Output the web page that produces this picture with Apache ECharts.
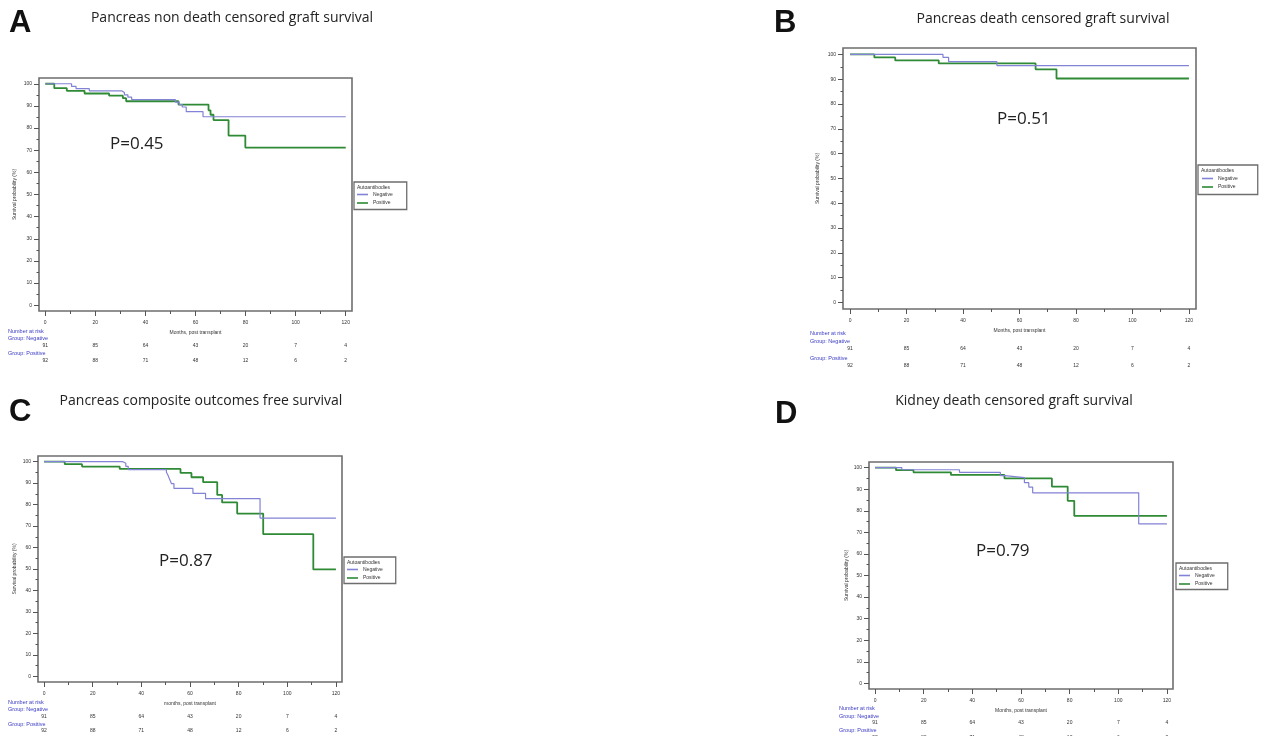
<!DOCTYPE html>
<html>
<head>
<meta charset="utf-8">
<script src="https://cdn.jsdelivr.net/npm/echarts@6/dist/echarts.min.js"></script>
<style>
  html, body { margin: 0; padding: 0; background: #fff; }
  #chart { width: 1261px; height: 736px; }
</style>
</head>
<body>
<div id="chart"></div>
<script>
// axis ticks
const monthTicks = [0, 20, 40, 60, 80, 100, 120];
const monthMinor = [10, 30, 50, 70, 90, 110];
const pctTicks = [0, 10, 20, 30, 40, 50, 60, 70, 80, 90, 100];
const pctMinor = [5, 15, 25, 35, 45, 55, 65, 75, 85, 95];

// number at risk, same table under every panel
const riskNegative = [91, 85, 64, 43, 20, 7, 4];
const riskPositive = [92, 88, 71, 48, 12, 6, 2];

const panelLetters = ['A', 'B', 'C', 'D'];
const panelTitles = [
  'Pancreas non death censored graft survival',
  'Pancreas death censored graft survival',
  'Pancreas composite outcomes free survival',
  'Kidney death censored graft survival'
];
const pValues = ['P=0.45', 'P=0.51', 'P=0.87', 'P=0.79'];
const xNames = ['Months, post transplant', 'Months, post transplant', 'months, post transplant', 'Months, post transplant'];

// A - pancreas non death censored
const aNegTime = [0, 10.5, 12.3, 17.6, 30.5, 31.6, 33, 34.5, 52, 53.5, 54.7, 56.3, 63, 120];
const aNegSurv = [100, 98.8, 97.8, 96.8, 96, 95, 94, 92.8, 91.7, 90.6, 89.5, 87.4, 85.1, 85.1];
const aPosTime = [0, 3.6, 8.6, 15.7, 25.5, 31, 32.3, 53.2, 65.2, 66, 67.2, 73.2, 79.9, 120];
const aPosSurv = [100, 98, 96.8, 95.6, 94.6, 93.5, 92.1, 90.6, 88, 86, 83.6, 76.6, 71.2, 71.2];
// B - pancreas death censored
const bNegTime = [0, 32.9, 34.9, 52, 120];
const bNegSurv = [100, 98.8, 97.1, 95.5, 95.5];
const bPosTime = [0, 8.6, 16, 31.4, 65.7, 73.1, 120];
const bPosSurv = [100, 98.8, 97.6, 96.4, 94, 90.3, 90.3];
// C - composite outcomes
const cNegTime = [0, 32.2, 33.6, 34.6, 50.3, 51, 51.7, 52.4, 53.4, 61.2, 66.4, 88.8, 120];
const cNegSurv = [100, 99.2, 97.8, 96.3, 95, 93.5, 91.5, 89.7, 87.5, 85.2, 82.8, 73.7, 73.7];
const cPosTime = [0, 8.5, 15.6, 31.1, 56.1, 60.6, 65.4, 71.2, 73.2, 79.4, 90.1, 110.7, 120];
const cPosSurv = [100, 98.8, 97.7, 96.6, 94.7, 92.7, 90.4, 84.5, 81, 75.8, 66.2, 49.8, 49.8];
// D - kidney death censored
const dNegTime = [0, 11, 34.7, 51.5, 53.4, 61.4, 63.2, 64.8, 108.4, 120];
const dNegSurv = [100, 99, 97.8, 96.3, 95.4, 93, 91, 88.3, 73.9, 73.9];
const dPosTime = [0, 8.6, 15.8, 31.2, 53.2, 72.7, 79.2, 81.9, 120];
const dPosSurv = [100, 98.8, 97.8, 96.6, 95, 91.2, 84.6, 77.6, 77.6];

const negCurves = [[aNegTime, aNegSurv], [bNegTime, bNegSurv], [cNegTime, cNegSurv], [dNegTime, dNegSurv]];
const posCurves = [[aPosTime, aPosSurv], [bPosTime, bPosSurv], [cPosTime, cPosSurv], [dPosTime, dPosSurv]];

// page layout of each panel
const layouts = [
  { box: [39, 78, 313, 233], letter: [9, 23.5], title: [232, 18], p: [110, 144], legend: [354, 182], legPad: [10, 14, 4, 3],
    yGap: 22, risk: { x: 8, head: 331, neg: 338.5, negRow: 346, pos: 353, posRow: 361 } },
  { box: [843, 48, 353, 261], letter: [774, 23.5], title: [1043, 19], p: [997, 119], legend: [1198, 165], legPad: [11, 20, 5, 4],
    yGap: 23, risk: { x: 810, head: 333, neg: 341, negRow: 349, pos: 358, posRow: 366 } },
  { box: [38, 456, 304, 226], letter: [9, 412.5], title: [201, 401], p: [159, 561], legend: [344, 557], legPad: [10, 13, 3, 3],
    yGap: 21, risk: { x: 8, head: 702, neg: 709, negRow: 717, pos: 724, posRow: 731 } },
  { box: [869, 462, 304, 227], letter: [775, 414], title: [1014, 401], p: [976, 551], legend: [1176, 563], legPad: [10, 13, 3, 3],
    yGap: 20, risk: { x: 839, head: 708, neg: 716, negRow: 723, pos: 730, posRow: 738 } }
];

const NEG_COLOR = '#8282d6';
const POS_COLOR = '#2f8a35';
const RISK_COLOR = '#3a3ac4';
const tickColor = '#555';

let chart = echarts.init(document.getElementById('chart'));

let grids = [], xAxes = [], yAxes = [], series = [], legends = [], graphics = [];

layouts.forEach((L, i) => {
  const [gl, gt, gw, gh] = L.box;
  grids.push({
    left: gl, top: gt, width: gw, height: gh,
    show: true, borderColor: '#6e6e6e', borderWidth: 1.6,
    containLabel: false, outerBoundsMode: 'none'
  });
  // main x axis
  xAxes.push({
    type: 'value', gridIndex: i, position: 'bottom', min: -2.5, max: 122.5,
    axisLine: { show: false, onZero: false },
    splitLine: { show: false },
    axisTick: { show: true, customValues: monthTicks, length: 5, lineStyle: { color: tickColor } },
    axisLabel: { customValues: monthTicks, fontSize: 5, color: '#333', margin: 9, fontFamily: 'Liberation Sans' },
    name: xNames[i], nameLocation: 'middle', nameGap: 19,
    nameTextStyle: { fontSize: 5, color: '#333', fontFamily: 'Liberation Sans' }
  });
  // minor ticks
  xAxes.push({
    type: 'value', gridIndex: i, position: 'bottom', min: -2.5, max: 122.5,
    axisLine: { show: false, onZero: false }, splitLine: { show: false },
    axisTick: { show: true, customValues: monthMinor, length: 3, lineStyle: { color: tickColor } },
    axisLabel: { show: false }
  });
  // number at risk rows
  const bottom = gt + gh;
  [[riskNegative, L.risk.negRow], [riskPositive, L.risk.posRow]].forEach(([row, y]) => {
    xAxes.push({
      type: 'value', gridIndex: i, position: 'bottom', offset: y - 3 - bottom, min: -2.5, max: 122.5,
      axisLine: { show: false, onZero: false }, splitLine: { show: false }, axisTick: { show: false },
      axisLabel: {
        customValues: monthTicks, margin: 0, fontSize: 5, color: '#333', fontFamily: 'Liberation Sans',
        formatter: v => String(row[monthTicks.indexOf(v)])
      }
    });
  });
  yAxes.push({
    type: 'value', gridIndex: i, position: 'left', min: -2.6, max: 102.6,
    axisLine: { show: false, onZero: false }, splitLine: { show: false },
    axisTick: { show: true, customValues: pctTicks, length: 5, lineStyle: { color: tickColor } },
    axisLabel: { customValues: pctTicks, fontSize: 5, color: '#333', margin: 7, fontFamily: 'Liberation Sans' },
    name: 'Survival probability (%)', nameLocation: 'middle', nameGap: L.yGap,
    nameTextStyle: { fontSize: 5, color: '#333', fontFamily: 'Liberation Sans' }
  });
  yAxes.push({
    type: 'value', gridIndex: i, position: 'left', min: -2.6, max: 102.6,
    axisLine: { show: false, onZero: false }, splitLine: { show: false },
    axisTick: { show: true, customValues: pctMinor, length: 2.5, lineStyle: { color: tickColor } },
    axisLabel: { show: false }
  });

  const neg = negCurves[i], pos = posCurves[i];
  series.push({
    name: 'Negative', type: 'line', step: 'end', xAxisIndex: i * 4, yAxisIndex: i * 2,
    symbol: 'none', data: neg[0].map((t, k) => [t, neg[1][k]]),
    lineStyle: { color: NEG_COLOR, width: 1.2 }, itemStyle: { color: NEG_COLOR }, z: 3
  });
  series.push({
    name: 'Positive', type: 'line', step: 'end', xAxisIndex: i * 4, yAxisIndex: i * 2,
    symbol: 'none', data: pos[0].map((t, k) => [t, pos[1][k]]),
    lineStyle: { color: POS_COLOR, width: 1.8 }, itemStyle: { color: POS_COLOR }, z: 2
  });

  legends.push({
    left: L.legend[0], top: L.legend[1], orient: 'vertical',
    data: [{ name: 'Negative', icon: 'rect' }, { name: 'Positive', icon: 'rect' }],
    itemWidth: 11, itemHeight: 1.6, itemGap: 3.5, padding: L.legPad,
    borderColor: '#6e6e6e', borderWidth: 1.3, selectedMode: false,
    textStyle: { fontSize: 5, color: '#333', fontFamily: 'Liberation Sans' }
  });
  graphics.push({
    type: 'text', x: L.legend[0] + 3, y: L.legend[1] + 3,
    style: { text: 'Autoantibodies', fontSize: 5, fill: '#333', fontFamily: 'Liberation Sans', verticalAlign: 'top' }
  });

  // panel letter, title, p value
  graphics.push({
    type: 'text', x: L.letter[0], y: L.letter[1],
    style: { text: panelLetters[i], fontSize: 31, fontWeight: 'bold', fill: '#111', fontFamily: 'Liberation Sans', verticalAlign: 'middle' }
  });
  graphics.push({
    type: 'text', x: L.title[0], y: L.title[1],
    style: { text: panelTitles[i], fontSize: 14, fill: '#222', fontFamily: 'Open Sans', align: 'center', verticalAlign: 'middle' }
  });
  graphics.push({
    type: 'text', x: L.p[0], y: L.p[1],
    style: { text: pValues[i], fontSize: 17, fill: '#222', fontFamily: 'Open Sans', verticalAlign: 'middle' }
  });

  // number at risk captions
  [['Number at risk', L.risk.head], ['Group: Negative', L.risk.neg], ['Group: Positive', L.risk.pos]].forEach(([txt, y]) => {
    graphics.push({
      type: 'text', x: L.risk.x, y: y,
      style: { text: txt, fontSize: 5.5, fill: RISK_COLOR, fontFamily: 'Liberation Sans', verticalAlign: 'middle' }
    });
  });
});

let option = {
  animation: false,
  backgroundColor: '#fff',
  grid: grids,
  xAxis: xAxes,
  yAxis: yAxes,
  legend: legends,
  series: series,
  graphic: graphics
};
chart.setOption(option);
</script>
</body>
</html>
